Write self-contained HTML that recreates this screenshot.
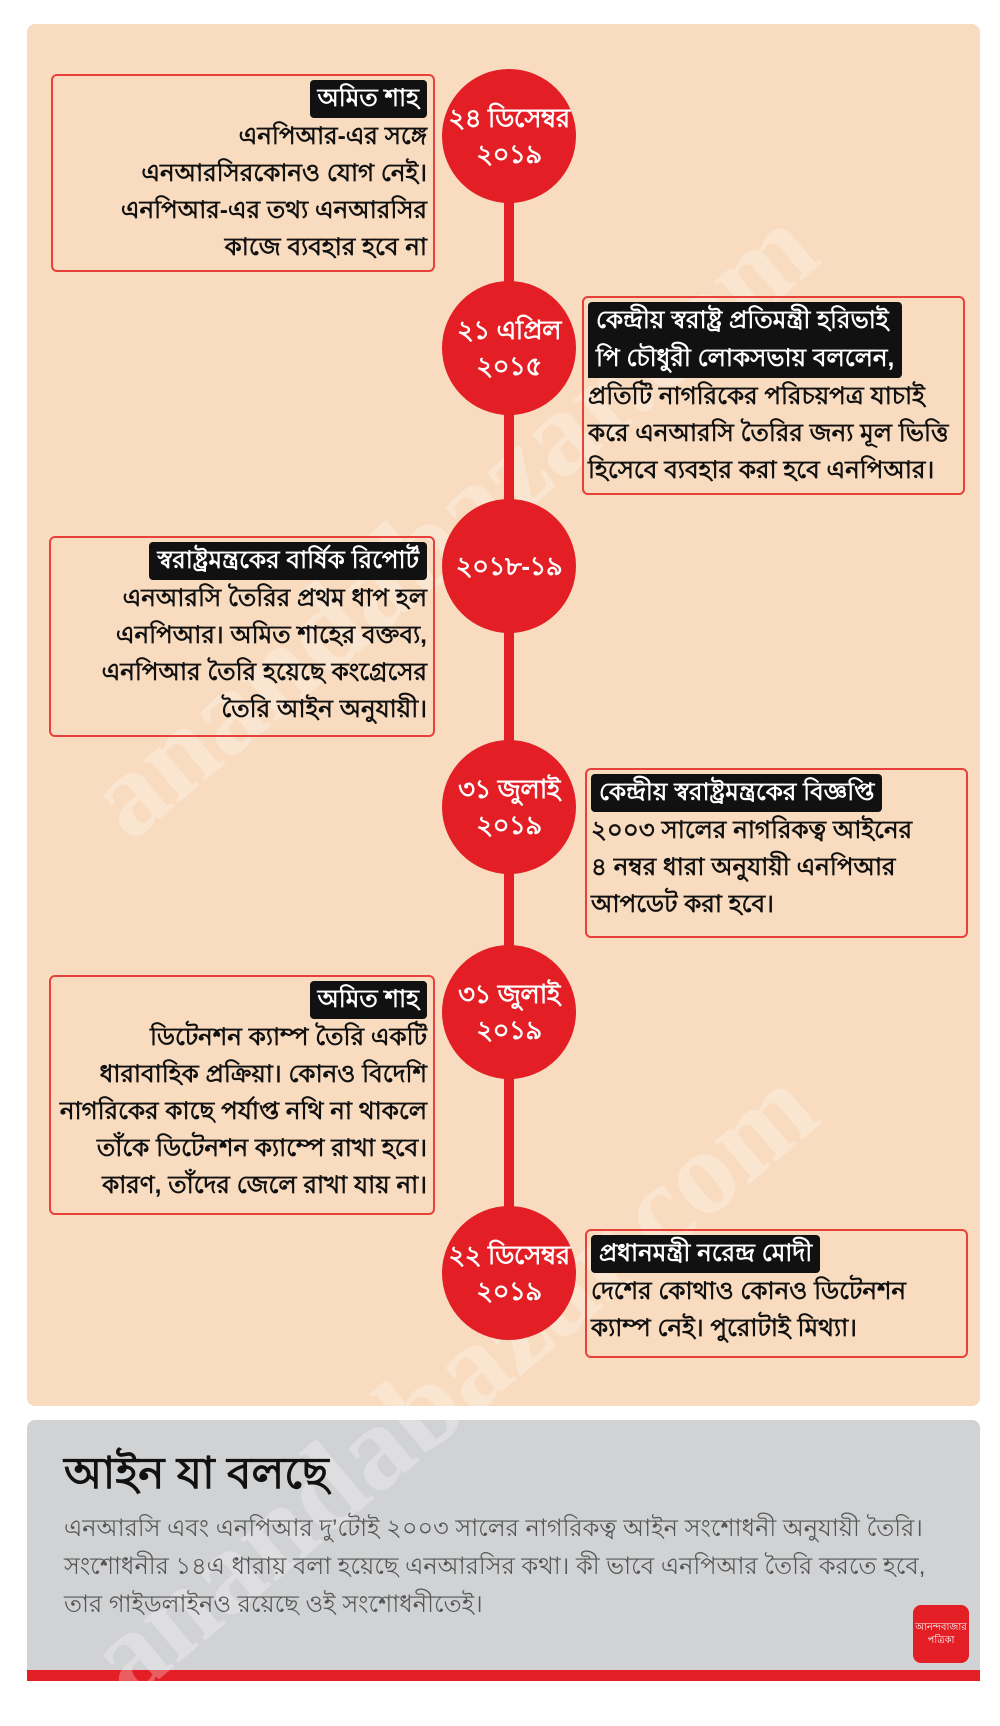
<!DOCTYPE html>
<html><head><meta charset="utf-8"><style>
*{margin:0;padding:0;box-sizing:border-box}
body{width:1000px;height:1698px;background:#fff;position:relative;overflow:hidden;font-family:"Liberation Sans","Noto Sans CJK SC",sans-serif}
.panel{position:absolute;left:27px;top:24px;width:953px;height:1382px;background:#f9dcbf;border-radius:8px}
.gray{position:absolute;left:27px;top:1420px;width:953px;height:250px;background:#d1d2d4;border-radius:8px 8px 0 0}
.bar{position:absolute;left:27px;top:1670px;width:953px;height:11px;background:#e31e24}
.line{position:absolute;left:504px;top:136px;width:10px;height:1137px;background:#e31e24}
.c{position:absolute;width:134px;height:134px;border-radius:50%;background:#e31e24;color:#fff;font-weight:bold;font-size:26px;line-height:36px;text-align:center;display:flex;align-items:center;justify-content:center;left:442px;white-space:nowrap;letter-spacing:-0.5px}
.box{position:absolute;border:2.5px solid #e8403a;border-radius:6px;font-size:24.5px;line-height:37px;color:#111;font-weight:bold;white-space:nowrap}
.box.l{text-align:right;padding:4px 6px 0 4px}
.box.r{text-align:left;padding:4px 4px 0 4px}
.tag{display:inline-block;background:#111;color:#fff;padding:0 8px;border-radius:4px;line-height:38px}
.wm{position:absolute;color:rgba(255,255,255,0.28);font-family:"Liberation Serif",serif;font-size:120px;font-weight:bold;transform:rotate(-40deg);transform-origin:left top;white-space:nowrap}
</style></head><body>
<div class="panel"></div>
<div class="gray"></div>
<div class="bar"></div>
<div class="wm" style="left:60px;top:760px">anandabazar.com</div>
<div class="wm" style="left:60px;top:1620px">anandabazar.com</div>
<div class="line"></div>

<div class="c" style="top:69px">২৪ ডিসেম্বর<br>২০১৯</div>
<div class="c" style="top:281px">২১ এপ্রিল<br>২০১৫</div>
<div class="c" style="top:499px">২০১৮-১৯</div>
<div class="c" style="top:740px">৩১ জুলাই<br>২০১৯</div>
<div class="c" style="top:945px">৩১ জুলাই<br>২০১৯</div>
<div class="c" style="top:1206px">২২ ডিসেম্বর<br>২০১৯</div>

<div class="box l" style="left:51px;top:74px;width:384px;height:198px"><span class="tag">অমিত শাহ</span><br>এনপিআর-এর সঙ্গে<br>এনআরসিরকোনও যোগ নেই।<br>এনপিআর-এর তথ্য এনআরসির<br>কাজে ব্যবহার হবে না</div>

<div class="box r" style="left:582px;top:296px;width:383px;height:199px"><span class="tag" style="border-radius:4px 4px 4px 0">কেন্দ্রীয় স্বরাষ্ট্র প্রতিমন্ত্রী হরিভাই<br>পি চৌধুরী লোকসভায় বললেন,</span><br>প্রতিটি নাগরিকের পরিচয়পত্র যাচাই<br>করে এনআরসি তৈরির জন্য মূল ভিত্তি<br>হিসেবে ব্যবহার করা হবে এনপিআর।</div>

<div class="box l" style="left:49px;top:536px;width:386px;height:201px"><span class="tag">স্বরাষ্ট্রমন্ত্রকের বার্ষিক রিপোর্ট</span><br>এনআরসি তৈরির প্রথম ধাপ হল<br>এনপিআর। অমিত শাহের বক্তব্য,<br>এনপিআর তৈরি হয়েছে কংগ্রেসের<br>তৈরি আইন অনুযায়ী।</div>

<div class="box r" style="left:585px;top:768px;width:383px;height:170px"><span class="tag">কেন্দ্রীয় স্বরাষ্ট্রমন্ত্রকের বিজ্ঞপ্তি</span><br>২০০৩ সালের নাগরিকত্ব আইনের<br>৪ নম্বর ধারা অনুযায়ী এনপিআর<br>আপডেট করা হবে।</div>

<div class="box l" style="left:49px;top:975px;width:386px;height:240px"><span class="tag">অমিত শাহ</span><br>ডিটেনশন ক্যাম্প তৈরি একটি<br>ধারাবাহিক প্রক্রিয়া। কোনও বিদেশি<br>নাগরিকের কাছে পর্যাপ্ত নথি না থাকলে<br>তাঁকে ডিটেনশন ক্যাম্পে রাখা হবে।<br>কারণ, তাঁদের জেলে রাখা যায় না।</div>

<div class="box r" style="left:585px;top:1229px;width:383px;height:129px"><span class="tag">প্রধানমন্ত্রী নরেন্দ্র মোদী</span><br>দেশের কোথাও কোনও ডিটেনশন<br>ক্যাম্প নেই। পুরোটাই মিথ্যা।</div>

<div style="position:absolute;left:64px;top:1446px;font-size:44px;font-weight:bold;color:#111;line-height:56px">আইন যা বলছে</div>
<div style="position:absolute;left:64px;top:1510px;width:920px;font-size:24px;color:#555;line-height:38px;white-space:nowrap">এনআরসি এবং এনপিআর দু’টোই ২০০৩ সালের নাগরিকত্ব আইন সংশোধনী অনুযায়ী তৈরি।<br>সংশোধনীর ১৪এ ধারায় বলা হয়েছে এনআরসির কথা। কী ভাবে এনপিআর তৈরি করতে হবে,<br>তার গাইডলাইনও রয়েছে ওই সংশোধনীতেই।</div>
<div style="position:absolute;left:913px;top:1605px;width:56px;height:58px;background:#e31e24;border-radius:8px;color:#fff;font-size:10px;line-height:13px;text-align:center;padding-top:16px">আনন্দবাজার<br>পত্রিকা</div>
</body></html>
